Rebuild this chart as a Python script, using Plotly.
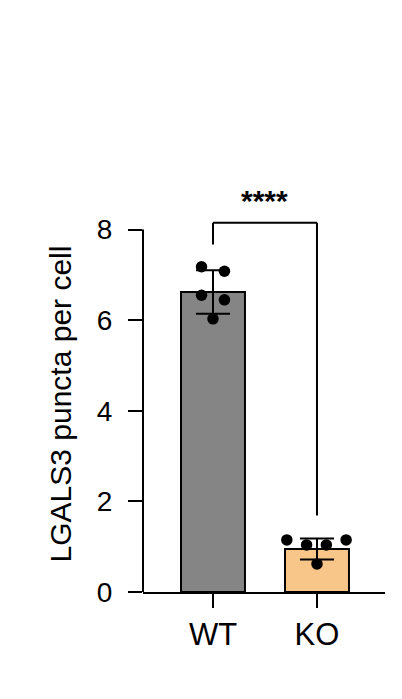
import plotly.graph_objs as go

# Data
groups = ["WT", "KO"]
group_means = [6.62, 0.95]
group_sd = [0.48, 0.23]
wt_points = [7.18, 7.08, 6.55, 6.45, 6.03]
ko_points = [1.15, 1.04, 1.04, 1.15, 0.62]
y_ticks = [0, 2, 4, 6, 8]
significance = "****"

BAR_COLORS = ["rgb(133, 133, 133)", "rgb(249, 198, 138)"]
FONT = "Liberation Sans, Arial, sans-serif"

# horizontal spread of the dots inside each bar (category units)
WT_JITTER = [-0.11, 0.11, -0.11, 0.11, 0.0]
KO_JITTER = [-0.29, -0.10, 0.09, 0.28, 0.0]

x_pos = list(range(len(groups)))

data = [
    go.Bar(
        x=x_pos,
        y=group_means,
        width=0.615,
        marker=dict(
            color=BAR_COLORS,
            line=dict(color="black", width=2),
        ),
        error_y=dict(
            type="data",
            array=group_sd,
            color="black",
            thickness=2,
            width=17,
        ),
    ),
    go.Scatter(
        x=[x_pos[0] + j for j in WT_JITTER] + [x_pos[1] + j for j in KO_JITTER],
        y=wt_points + ko_points,
        mode="markers",
        marker=dict(size=11.5, color="black"),
        cliponaxis=False,
    ),
]

# significance bracket between WT and KO
bracket_top = 8.15
bracket_left = 7.67
bracket_right = 1.69

# the page body adds an 8px offset, so the figure is drawn 8px smaller
layout = go.Layout(
    width=394,
    height=691,
    showlegend=False,
    plot_bgcolor="white",
    paper_bgcolor="white",
    margin=dict(l=135, r=17, t=208, b=107),
    font=dict(family=FONT, color="black"),
    xaxis=dict(
        range=[-0.673, 1.654],
        tickmode="array",
        tickvals=x_pos,
        ticktext=groups,
        ticks="outside",
        ticklen=14,
        tickwidth=2,
        tickcolor="black",
        tickfont=dict(size=31),
        showline=True,
        linecolor="black",
        linewidth=2,
        showgrid=False,
        zeroline=False,
    ),
    yaxis=dict(
        range=[0, 8.3],
        tickmode="array",
        tickvals=y_ticks,
        ticks="outside",
        ticklen=14,
        tickwidth=2,
        tickcolor="black",
        tickfont=dict(size=28),
        ticklabelstandoff=10,
        showline=False,
        showgrid=False,
        zeroline=False,
        title=dict(text="LGALS3 puncta per cell", font=dict(size=30), standoff=16),
    ),
    shapes=[
        # y axis line, only up to the last tick
        dict(type="line", xref="paper", yref="y", x0=0, x1=0, y0=0, y1=y_ticks[-1],
             line=dict(color="black", width=2)),
        dict(type="line", xref="x", yref="y", x0=x_pos[0], x1=x_pos[0],
             y0=bracket_left, y1=bracket_top, line=dict(color="black", width=2)),
        dict(type="line", xref="x", yref="y", x0=x_pos[0], x1=x_pos[1],
             y0=bracket_top, y1=bracket_top, line=dict(color="black", width=2)),
        dict(type="line", xref="x", yref="y", x0=x_pos[1], x1=x_pos[1],
             y0=bracket_right, y1=bracket_top, line=dict(color="black", width=2)),
    ],
    annotations=[
        dict(
            x=(x_pos[0] + x_pos[1]) / 2,
            y=bracket_top,
            xref="x",
            yref="y",
            text="<b>" + significance + "</b>",
            showarrow=False,
            font=dict(size=30),
            yanchor="middle",
            yshift=22,
        )
    ],
)

fig = go.Figure(data=data, layout=layout)
fig.write_html("out.html")
